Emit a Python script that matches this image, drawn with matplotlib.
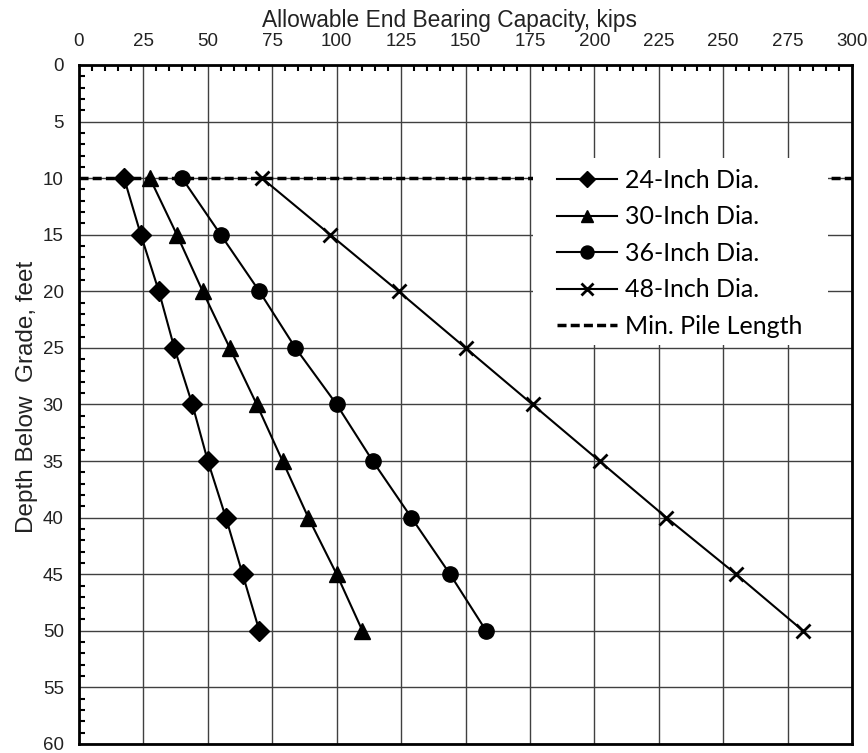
import matplotlib
matplotlib.use("Agg")
import matplotlib.pyplot as plt
from matplotlib.ticker import MultipleLocator
from matplotlib.patches import Rectangle

depth = [10, 15, 20, 25, 30, 35, 40, 45, 50]
cap_24 = [17.5, 24, 31, 37, 44, 50, 57, 63.5, 70]
cap_30 = [27.5, 38, 48, 58.5, 69, 79, 89, 100, 110]
cap_36 = [40, 55, 70, 84, 100, 114, 129, 144, 158]
cap_48 = [71, 97.5, 124, 150, 176, 202, 228, 255, 281]
min_pile_depth = 10
x_range = [0, 300]

plt.rcParams['font.family'] = ['Liberation Sans', 'DejaVu Sans']

fig = plt.figure(figsize=(8.68, 7.53), dpi=100)
ax = fig.add_axes([0.091, 0.012, 0.8906, 0.9017])

ax.plot(x_range, [min_pile_depth, min_pile_depth], color='black', lw=2.5,
        ls=(0, (2.6, 1.2)), label='Min. Pile Length', zorder=3)
ax.plot(cap_24, depth, color='black', lw=1.5, marker='D', ms=10, label='24-Inch Dia.', zorder=4)
ax.plot(cap_30, depth, color='black', lw=1.5, marker='^', ms=11, label='30-Inch Dia.', zorder=4)
ax.plot(cap_36, depth, color='black', lw=1.5, marker='o', ms=11, label='36-Inch Dia.', zorder=4)
ax.plot(cap_48, depth, color='black', lw=1.5, marker='x', ms=9.5, mew=2, label='48-Inch Dia.', zorder=4)

ax.set_xlim(0, 300)
ax.set_ylim(60, 0)
ax.xaxis.set_major_locator(MultipleLocator(25))
ax.xaxis.set_minor_locator(MultipleLocator(5))
ax.yaxis.set_major_locator(MultipleLocator(5))
ax.yaxis.set_minor_locator(MultipleLocator(1))
ax.xaxis.tick_top()
ax.xaxis.set_label_position('top')
ax.tick_params(which='both', direction='in', top=True, bottom=False, left=True, right=False)
ax.tick_params(which='major', length=0, labelsize=13.5, colors='#222222')
ax.tick_params(axis='x', which='major', pad=11)
ax.tick_params(axis='y', which='major', pad=11)
ax.tick_params(which='minor', length=4, width=1.5)
ax.grid(True, which='major', color='#404040', lw=1)
ax.set_axisbelow(True)
for s in ax.spines.values():
    s.set_linewidth(2)
    s.set_color('black')

ax.set_xlabel('Allowable End Bearing Capacity, kips', fontsize=16.4, color='#222222')
ax.xaxis.set_label_coords(0.479, 1.056)
ax.set_ylabel('Depth Below  Grade, feet', fontsize=17.5, color='#222222')
ax.yaxis.set_label_coords(-0.053, 0.511)

# white legend panel
ax.add_patch(Rectangle((0.587, 0.588), 0.382, 0.275, transform=ax.transAxes,
                       facecolor='white', edgecolor='none', zorder=5))

h, l = ax.get_legend_handles_labels()
order = [1, 2, 3, 4, 0]
leg = ax.legend([h[i] for i in order], [l[i] for i in order], loc='upper left',
                bbox_to_anchor=(0.618, 0.847), frameon=False,
                prop={'family': 'Lato', 'size': 18},
                handlelength=2.4, handletextpad=0.32, labelspacing=0.54, markerscale=0.85,
                borderpad=0, borderaxespad=0)
leg.set_zorder(6)

fig.savefig('out.png', dpi=100)
